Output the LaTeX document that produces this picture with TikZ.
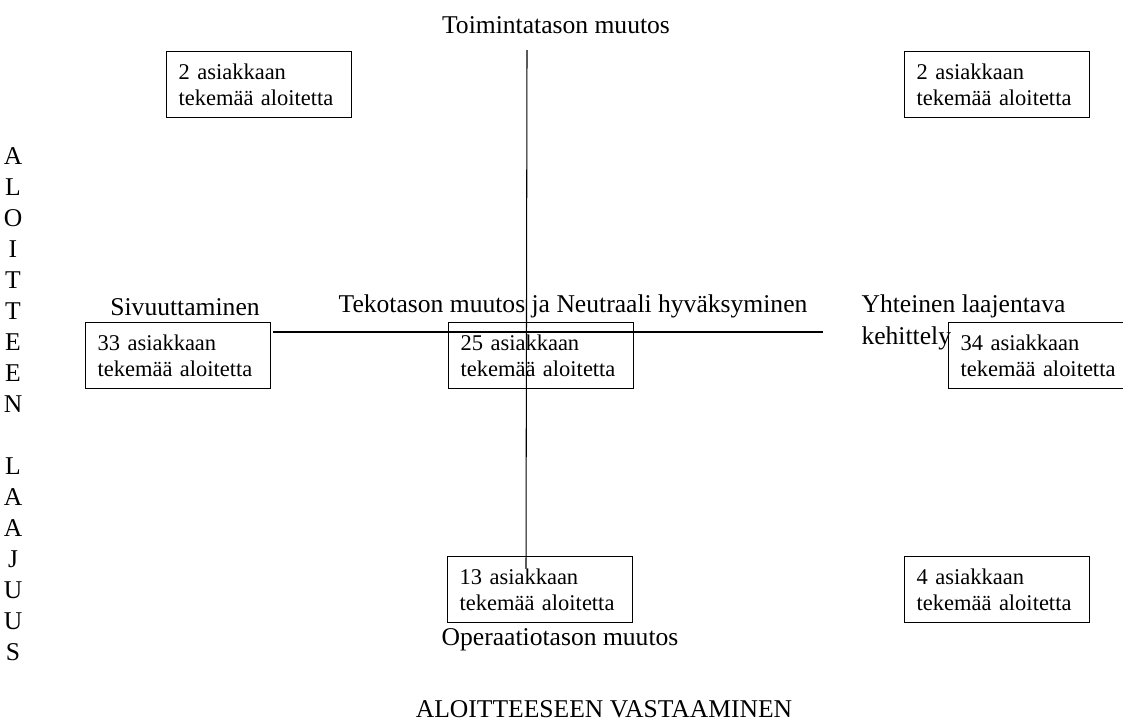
\documentclass[tikz,border=0pt]{standalone}
\usepackage{fontspec}
\setmainfont{Liberation Serif}
\usepackage{tikz}
\tikzset{every picture/.style={line width=0.75pt}}
\usetikzlibrary{positioning, calc}

\begin{document}
\begin{tikzpicture}[
		x=0.025cm, y=-0.025cm,
		% Box holding the number of initiatives
		quadbox/.style={
			draw,
			anchor=north west,
			align=left,
			inner xsep=0.3cm,
			text width=4.025cm,
			minimum height=1.65cm,
			font=\fontsize{16}{18.5}\selectfont
		},
		% Larger category labels
		quadlabel/.style={
			font=\fontsize{18.2}{22.8}\selectfont
		}
		]
		
		% Fix the page size
		\useasboundingbox (0,0) rectangle (1123,724);
		
		% Define coordinates
		\coordinate (axtop) at (527, 50);
		\coordinate (axbottom) at (526, 568);
		\coordinate (axleft) at (273, 332);
		\coordinate (axright) at (823, 332);
		
		% --- Axes ---
		\draw (axtop) -- (axbottom);
		\draw (axleft) -- (axright);
		
		% --- Boxes ---
		\node[quadbox] (topleft) at (166, 51) {2 asiakkaan\\tekemää aloitetta};
		\node[quadbox] (topright) at (904, 51) {2 asiakkaan\\tekemää aloitetta};
		\node[quadbox] (midleft) at (85, 322) {33 asiakkaan\\tekemää aloitetta};
		\node[quadbox] (midcentre) at (448, 322) {25 asiakkaan\\tekemää aloitetta};
		\node[quadbox] (midright) at (948, 322) {34 asiakkaan\\tekemää aloitetta};
		\node[quadbox] (botcentre) at (447, 556) {13 asiakkaan\\tekemää aloitetta};
		\node[quadbox] (botright) at (904, 556) {4 asiakkaan\\tekemää aloitetta};
		
		% --- Labels ---
		\node[quadlabel] (toiminta) at (556, 25) {Toimintatason muutos};
		\node[quadlabel] (sivuutus) at (185, 307) {Sivuuttaminen};
		\node[quadlabel] (tekotaso) at (573, 306) {Tekotason muutos ja Neutraali hyväksyminen};
		\node[quadlabel, anchor=west, align=left, inner xsep=0pt] (yhteinen) at (861, 322) {Yhteinen laajentava\\kehittely};
		\node[quadlabel] (operaatio) at (560, 640) {Operaatiotason muutos};
		\node[quadlabel] (vastaus) at (604, 709) {ALOITTEESEEN VASTAAMINEN};
		
		% --- Vertical axis title ---
		\node[quadlabel, align=center, font=\fontsize{18.2}{22.05}\selectfont] (laajuus) at (13, 404)
		{A\\L\\O\\I\\T\\T\\E\\E\\N\\[22.05pt]L\\A\\A\\J\\U\\U\\S};
		
	\end{tikzpicture}
\end{document}
